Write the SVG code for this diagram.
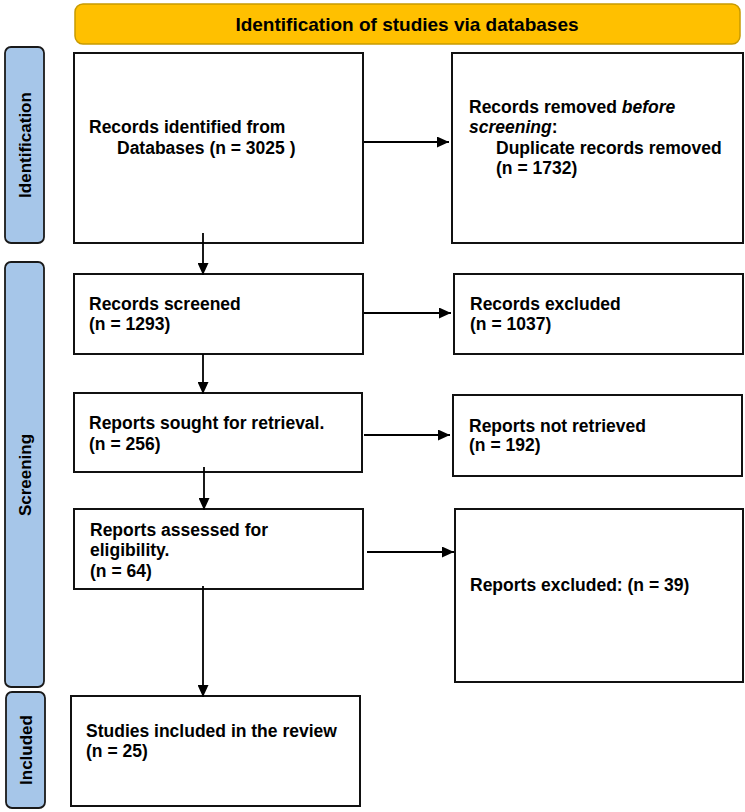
<svg xmlns="http://www.w3.org/2000/svg" width="745" height="812" viewBox="0 0 745 812">
<defs>
<marker id="ah" markerWidth="12" markerHeight="11" refX="12" refY="5.5" orient="auto" markerUnits="userSpaceOnUse">
<path d="M0,0 L12,5.5 L0,11 Z" fill="#000"/>
</marker>
<style>
.box{fill:#fff;stroke:#111;stroke-width:2}
.side{fill:#a6c6e9;stroke:#1a1a1a;stroke-width:1.8}
.t{font-family:"Liberation Sans",Arial,sans-serif;font-weight:bold;font-size:17.5px;fill:#000}
.st{font-family:"Liberation Sans",Arial,sans-serif;font-weight:bold;font-size:17px;fill:#000;text-anchor:middle}
.hd{font-family:"Liberation Sans",Arial,sans-serif;font-weight:bold;font-size:19px;fill:#000;text-anchor:middle}
.c{stroke:#000;stroke-width:1.8;fill:none}
</style>
</defs>
<rect width="745" height="812" fill="#fff"/>
<g id="header">
<rect x="75" y="4" width="665" height="40" rx="8" fill="#ffc000" stroke="#c89a00" stroke-width="1.5"/>
<text class="hd" x="407" y="31">Identification of studies via databases</text>
</g>
<g id="label-identification">
<rect class="side" x="5" y="47" width="39" height="196" rx="6"/>
<text class="st" transform="translate(31,145) rotate(-90)">Identification</text>
</g>
<g id="label-screening">
<rect class="side" x="5" y="262" width="39" height="425" rx="6"/>
<text class="st" transform="translate(31,475) rotate(-90)">Screening</text>
</g>
<g id="label-included">
<rect class="side" x="6" y="692" width="39" height="116" rx="6"/>
<text class="st" transform="translate(32,750) rotate(-90)">Included</text>
</g>
<g id="records-identified">
<rect class="box" x="74" y="53" width="289" height="190"/>
<text class="t" x="89" y="133">Records identified from</text>
<text class="t" x="117" y="154">Databases (n = 3025 )</text>
</g>
<g id="records-removed">
<rect class="box" x="452" y="53" width="291" height="190"/>
<text class="t" x="469" y="113">Records removed <tspan font-style="italic">before</tspan></text>
<text class="t" x="469" y="133"><tspan font-style="italic">screening</tspan>:</text>
<text class="t" x="496" y="154">Duplicate records removed</text>
<text class="t" x="496" y="174">(n = 1732)</text>
</g>
<g id="records-screened">
<rect class="box" x="74" y="274" width="289" height="80"/>
<text class="t" x="89" y="310">Records screened</text>
<text class="t" x="89" y="330">(n = 1293)</text>
</g>
<g id="records-excluded">
<rect class="box" x="454" y="274" width="289" height="80"/>
<text class="t" x="470" y="310">Records excluded</text>
<text class="t" x="470" y="330">(n = 1037)</text>
</g>
<g id="reports-sought">
<rect class="box" x="74" y="393" width="288" height="79"/>
<text class="t" x="89" y="429">Reports sought for retrieval.</text>
<text class="t" x="89" y="450">(n = 256)</text>
</g>
<g id="reports-not-retrieved">
<rect class="box" x="453" y="395" width="289" height="81"/>
<text class="t" x="469" y="432">Reports not retrieved</text>
<text class="t" x="469" y="451">(n = 192)</text>
</g>
<g id="reports-assessed">
<rect class="box" x="74" y="509" width="289" height="80"/>
<text class="t" x="90" y="536">Reports assessed for</text>
<text class="t" x="90" y="556">eligibility.</text>
<text class="t" x="90" y="577">(n = 64)</text>
</g>
<g id="reports-excluded">
<rect class="box" x="455" y="509" width="288" height="173"/>
<text class="t" x="470" y="591">Reports excluded: (n = 39)</text>
</g>
<g id="studies-included">
<rect class="box" x="71" y="696" width="289" height="110"/>
<text class="t" x="86" y="737">Studies included in the review</text>
<text class="t" x="86" y="757">(n = 25)</text>
</g>
<g id="connectors">
<line class="c" x1="364" y1="142" x2="449" y2="142" marker-end="url(#ah)"/>
<line class="c" x1="203" y1="233" x2="203" y2="275" marker-end="url(#ah)"/>
<line class="c" x1="364" y1="313" x2="451" y2="313" marker-end="url(#ah)"/>
<line class="c" x1="203" y1="354" x2="203" y2="394" marker-end="url(#ah)"/>
<line class="c" x1="364" y1="435" x2="450" y2="435" marker-end="url(#ah)"/>
<line class="c" x1="204" y1="467" x2="204" y2="510" marker-end="url(#ah)"/>
<line class="c" x1="367" y1="552" x2="454" y2="552" marker-end="url(#ah)"/>
<line class="c" x1="203" y1="586" x2="203" y2="697" marker-end="url(#ah)"/>
</g>
</svg>
